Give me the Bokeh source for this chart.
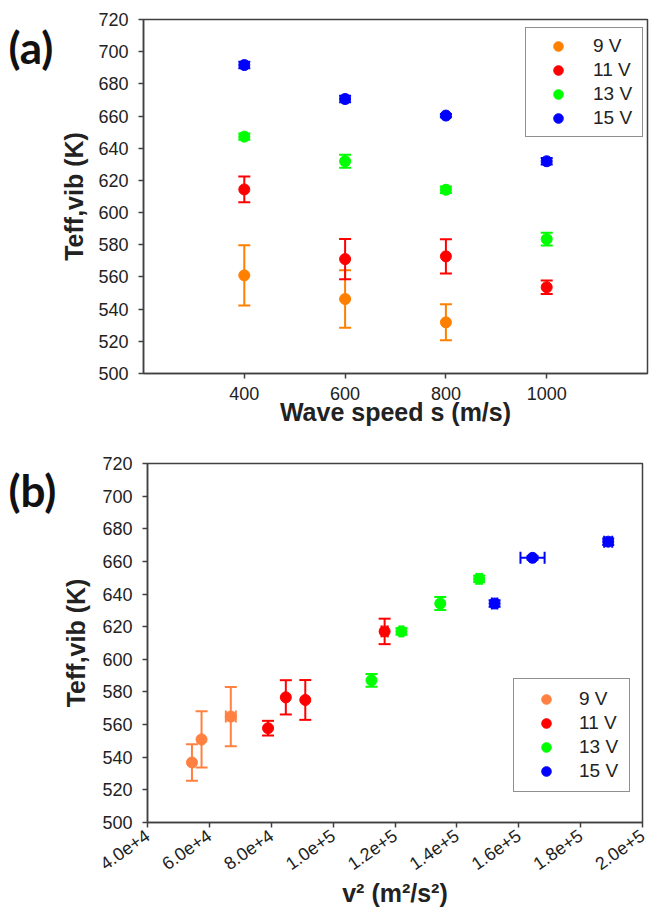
from bokeh.plotting import figure
from bokeh.models import (ColumnDataSource, Whisker, TeeHead, FixedTicker, Legend,
                          LegendItem, Range1d)
from bokeh.core.properties import value
from bokeh.layouts import column, row
from bokeh.embed import file_html
from bokeh.resources import INLINE

# ---------------- data ----------------
# panel (a): effective vibrational temperature vs wave speed
speed_9V = [400, 600, 800]
speed = [400, 600, 800, 1000]
T_9V = [561.0, 546.3, 531.8]
T_9V_err = [18.7, 17.8, 11.2]
T_11V = [614.4, 571.1, 572.8, 553.6]
T_11V_err = [8.0, 12.5, 10.7, 4.2]
T_13V = [647.2, 631.9, 614.2, 583.5]
T_13V_err = [2.0, 4.1, 2.0, 3.9]
T_15V = [691.7, 670.6, 660.3, 631.9]
T_15V_err = [2.0, 2.0, 1.0, 2.0]

# panel (b): temperatures vs v^2 (15 V / 400 m/s is off-scale)
v2_9V = [66922, 57469, 54371]
v2_9V_err = [1600, 0, 0]
Tb_9V = [564.9, 550.9, 536.8]
Tb_9V_err = [18.1, 17.2, 11.2]
v2_11V = [116647, 91002, 84711, 78962]
v2_11V_err = [1000, 0, 0, 0]
Tb_11V = [617.1, 575.1, 576.7, 557.8]
Tb_11V_err = [7.8, 12.2, 10.5, 4.5]
v2_13V = [147198, 134638, 122076, 112396]
v2_13V_err = [900, 0, 600, 0]
Tb_13V = [649.3, 634.2, 617.1, 587.1]
Tb_13V_err = [2.0, 4.0, 2.0, 3.9]
v2_15V = [188918, 164455, 152192]
v2_15V_err = [1300, 3900, 900]
Tb_15V = [672.1, 662.2, 634.2]
Tb_15V_err = [2.0, 1.0, 2.0]

labels = ["9 V", "11 V", "13 V", "15 V"]
panel_tags = ["(a)", "(b)"]
y_ticks = [500, 520, 540, 560, 580, 600, 620, 640, 660, 680, 700, 720]
speed_ticks = [400, 600, 800, 1000]
v2_ticks = [40000, 60000, 80000, 100000, 120000, 140000, 160000, 180000, 200000]
v2_tick_labels = ["4.0e+4", "6.0e+4", "8.0e+4", "1.0e+5", "1.2e+5",
                  "1.4e+5", "1.6e+5", "1.8e+5", "2.0e+5"]

ORANGE_A = "#FF8000"
ORANGE_B = "#FF8040"
RED = "#FF0000"
GREEN = "#00FF00"
BLUE = "#0000FF"
AXIS = "#404040"
TXT = "#222222"
FONT = "Liberation Sans"

H1, H2 = 440, 469   # row heights (px)
TAG_W = 57


def style(p):
    p.grid.visible = False
    p.outline_line_color = AXIS
    p.outline_line_width = 1.5
    for ax in (p.xaxis[0], p.yaxis[0]):
        ax.axis_line_color = AXIS
        ax.axis_line_width = 1.5
        ax.major_tick_line_color = AXIS
        ax.major_tick_line_width = 1.5
        ax.major_tick_out = 5
        ax.major_tick_in = 0
        ax.minor_tick_line_color = None
        ax.major_label_text_font = FONT
        ax.major_label_text_font_size = "18px"
        ax.major_label_text_color = TXT
        ax.axis_label_text_font = FONT
        ax.axis_label_text_font_size = "25px"
        ax.axis_label_text_font_style = "bold"
        ax.axis_label_text_color = TXT


def series(p, x, y, yerr, color, xerr=None):
    src = ColumnDataSource(dict(
        x=x, y=y,
        ylo=[a - b for a, b in zip(y, yerr)], yhi=[a + b for a, b in zip(y, yerr)],
        xlo=[a - b for a, b in zip(x, xerr)] if xerr else x,
        xhi=[a + b for a, b in zip(x, xerr)] if xerr else x,
    ))
    p.add_layout(Whisker(source=src, base="x", lower="ylo", upper="yhi", dimension="height",
                         line_color=color, line_width=2, level="underlay",
                         upper_head=TeeHead(size=12, line_color=color, line_width=2),
                         lower_head=TeeHead(size=12, line_color=color, line_width=2)))
    if xerr:
        p.add_layout(Whisker(source=src, base="y", lower="xlo", upper="xhi", dimension="width",
                             line_color=color, line_width=2, level="underlay",
                             upper_head=TeeHead(size=12, line_color=color, line_width=2),
                             lower_head=TeeHead(size=12, line_color=color, line_width=2)))
    return p.scatter("x", "y", source=src, size=11, fill_color=color, line_color=color)


def tag_figure(text, width, height, from_top):
    # a narrow, axis-less strip beside the plot that carries the panel tag
    f = figure(width=width, height=height, output_backend="svg", toolbar_location=None,
               x_range=Range1d(0, width), y_range=Range1d(0, height), min_border=0,
               x_axis_location=None, y_axis_location=None)
    f.grid.visible = False
    f.outline_line_color = None
    f.text(x=[8], y=[height - from_top], text=[text], text_font=value("Lato"),
           text_font_size="44px", text_font_style="bold", text_color="#111111",
           text_baseline="middle", text_align="left")
    return f


# ---------------- panel (a) ----------------
p1 = figure(width=649 - TAG_W, height=H1, output_backend="svg", toolbar_location=None,
            x_range=Range1d(200, 1200), y_range=Range1d(500, 720),
            min_border_left=86, min_border_right=2, min_border_top=19, min_border_bottom=67)
style(p1)
p1.xaxis.ticker = FixedTicker(ticks=speed_ticks)
p1.yaxis.ticker = FixedTicker(ticks=y_ticks)
p1.xaxis.major_label_standoff = 8
p1.yaxis.major_label_standoff = 10
p1.xaxis.axis_label = "Wave speed s (m/s)"
p1.yaxis.axis_label = "Teff,vib (K)"
p1.xaxis.axis_label_standoff = -5
p1.yaxis.axis_label_standoff = 7

ra = [series(p1, speed_9V, T_9V, T_9V_err, ORANGE_A),
      series(p1, speed, T_11V, T_11V_err, RED),
      series(p1, speed, T_13V, T_13V_err, GREEN),
      series(p1, speed, T_15V, T_15V_err, BLUE)]

leg1 = Legend(items=[LegendItem(label=l, renderers=[r]) for l, r in zip(labels, ra)],
              location=(382, 236), padding=6, spacing=0, glyph_width=52, glyph_height=24,
              label_height=24, label_width=43, label_standoff=9,
              label_text_font=FONT, label_text_font_size="19px", label_text_color=TXT,
              label_text_baseline="middle",
              border_line_color=TXT, border_line_width=1.5, background_fill_alpha=1.0)
p1.add_layout(leg1, "center")
fa = tag_figure(panel_tags[0], TAG_W, H1, 34)

# ---------------- panel (b) ----------------
p2 = figure(width=649 - TAG_W, height=H2, output_backend="svg", toolbar_location=None,
            x_range=Range1d(40000, 200000), y_range=Range1d(500, 720),
            min_border_left=90, min_border_right=7, min_border_top=23, min_border_bottom=86)
style(p2)
p2.xaxis.ticker = FixedTicker(ticks=v2_ticks)
p2.xaxis.major_label_overrides = {t: s for t, s in zip(v2_ticks, v2_tick_labels)}
p2.xaxis.major_label_orientation = 0.61
p2.yaxis.ticker = FixedTicker(ticks=y_ticks)
p2.xaxis.major_label_standoff = 6
p2.yaxis.major_label_standoff = 10
p2.xaxis.axis_label = "v\u00b2 (m\u00b2/s\u00b2)"
p2.yaxis.axis_label = "Teff,vib (K)"
p2.xaxis.axis_label_standoff = 0
p2.yaxis.axis_label_standoff = 9

rb = [series(p2, v2_9V, Tb_9V, Tb_9V_err, ORANGE_B, v2_9V_err),
      series(p2, v2_11V, Tb_11V, Tb_11V_err, RED, v2_11V_err),
      series(p2, v2_13V, Tb_13V, Tb_13V_err, GREEN, v2_13V_err),
      series(p2, v2_15V, Tb_15V, Tb_15V_err, BLUE, v2_15V_err)]

leg2 = Legend(items=[LegendItem(label=l, renderers=[r]) for l, r in zip(labels, rb)],
              location=(366, 30), padding=8, spacing=0, glyph_width=48, glyph_height=24,
              label_height=24, label_width=42, label_standoff=9,
              label_text_font=FONT, label_text_font_size="19px", label_text_color=TXT,
              label_text_baseline="middle",
              border_line_color=TXT, border_line_width=1.5, background_fill_alpha=1.0)
p2.add_layout(leg2, "center")
fb = tag_figure(panel_tags[1], TAG_W, H2, 34)

layout = column(row(fa, p1, spacing=0), row(fb, p2, spacing=0), spacing=0)
open("out.html", "w").write(file_html(layout, INLINE))
